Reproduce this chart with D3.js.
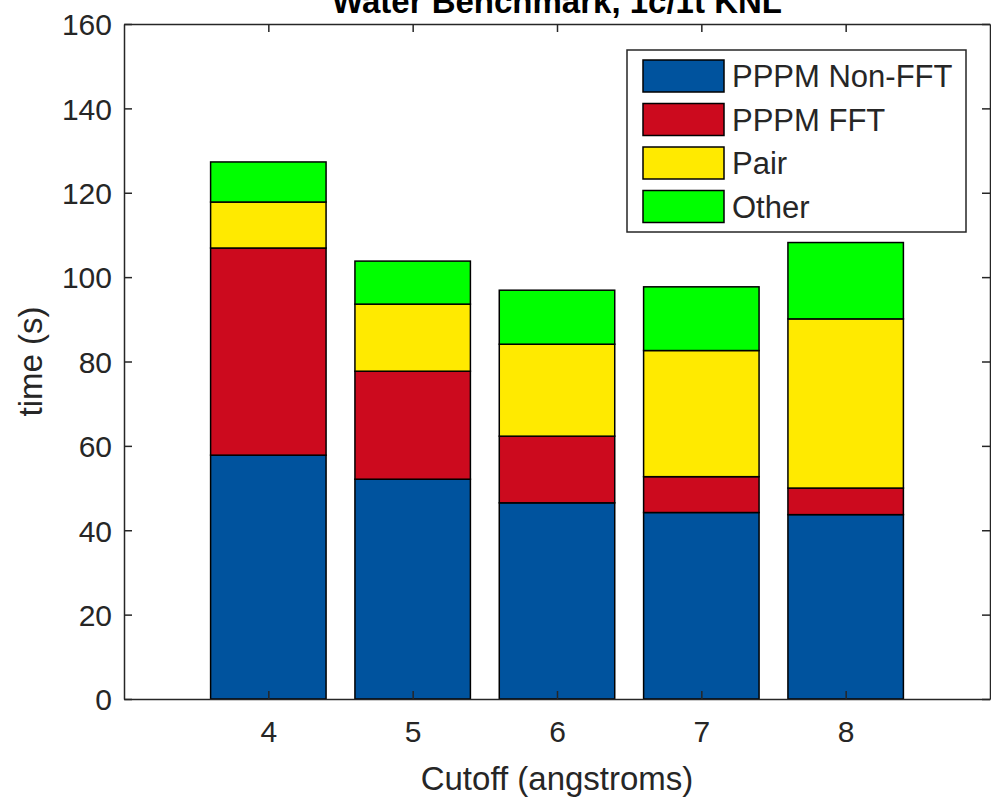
<!DOCTYPE html>
<html>
<head>
<meta charset="utf-8">
<script src="https://cdn.jsdelivr.net/npm/d3@7"></script>
<style>
  html, body { margin: 0; padding: 0; background: #fff; }
  svg { display: block; font-family: "Liberation Sans", Arial, Helvetica, sans-serif; }
</style>
</head>
<body>
<svg id="chart" width="991" height="802"></svg>
<script>
// Cutoff radii (angstroms) and the time spent in each part of the run
const cutoffs = [4, 5, 6, 7, 8];
const pppmNonFFT = [57.8, 52.1, 46.5, 44.2, 43.7];
const pppmFFT    = [49.1, 25.6, 15.8, 8.5, 6.3];
const pair       = [10.9, 15.9, 21.8, 29.9, 40.1];
const other      = [9.5, 10.2, 12.8, 15.1, 18.1];

const seriesNames = ["PPPM Non-FFT", "PPPM FFT", "Pair", "Other"];
const seriesColors = ["#00539E", "#CC0A1E", "#FFEA00", "#00FF00"];
const yTicks = [0, 20, 40, 60, 80, 100, 120, 140, 160];

const svg = d3.select("#chart");
const plotLeft = 124, plotRight = 990, plotTop = 24, plotBottom = 699;
const axisColor = "#262626";

const x = d3.scaleLinear().domain([3, 9]).range([plotLeft, plotRight]);
const y = d3.scaleLinear().domain([0, 160]).range([plotBottom, plotTop]);

// Stack the four components per cutoff
const rows = cutoffs.map((c, i) => ({
  cutoff: c,
  "PPPM Non-FFT": pppmNonFFT[i],
  "PPPM FFT": pppmFFT[i],
  "Pair": pair[i],
  "Other": other[i]
}));
const stacked = d3.stack().keys(seriesNames)(rows);
const barWidth = (x(1) - x(0)) * 0.8;

const layers = svg.append("g").selectAll("g")
  .data(stacked)
  .join("g")
  .attr("fill", (d, i) => seriesColors[i]);

layers.selectAll("rect")
  .data(d => d)
  .join("rect")
  .attr("x", d => x(d.data.cutoff) - barWidth / 2)
  .attr("width", barWidth)
  .attr("y", d => y(d[1]))
  .attr("height", d => y(d[0]) - y(d[1]))
  .attr("stroke", "#000")
  .attr("stroke-width", 1.5);

// Axes box with inward ticks on all four sides
const tickLen = 8;
const axisFont = "30px";

const gLeft = svg.append("g").attr("transform", `translate(${plotLeft},0)`)
  .call(d3.axisLeft(y).tickValues(yTicks).tickSizeInner(-tickLen).tickSizeOuter(0).tickPadding(12));
const gRight = svg.append("g").attr("transform", `translate(${plotRight},0)`)
  .call(d3.axisRight(y).tickValues(yTicks).tickSizeInner(-tickLen).tickSizeOuter(0).tickFormat(""));
const gBottom = svg.append("g").attr("transform", `translate(0,${plotBottom})`)
  .call(d3.axisBottom(x).tickValues(cutoffs).tickFormat(d3.format("d"))
    .tickSizeInner(-tickLen).tickSizeOuter(0).tickPadding(22));
const gTop = svg.append("g").attr("transform", `translate(0,${plotTop})`)
  .call(d3.axisTop(x).tickValues(cutoffs).tickSizeInner(-tickLen).tickSizeOuter(0).tickFormat(""));

[gLeft, gRight, gBottom, gTop].forEach(g => {
  g.selectAll("path.domain").attr("stroke", axisColor).attr("stroke-width", 1.5);
  g.selectAll(".tick line").attr("stroke", axisColor).attr("stroke-width", 1.5);
  g.selectAll(".tick text")
    .attr("fill", axisColor)
    .style("font-size", axisFont)
    .style("font-family", "'Liberation Sans', Arial, sans-serif");
});
gLeft.selectAll(".tick text").attr("dy", "0.36em");

// Axis titles
svg.append("text")
  .attr("x", (plotLeft + plotRight) / 2)
  .attr("y", 790)
  .attr("text-anchor", "middle")
  .attr("fill", axisColor)
  .style("font-size", "33px")
  .text("Cutoff (angstroms)");

svg.append("text")
  .attr("transform", `translate(42,${(plotTop + plotBottom) / 2}) rotate(-90)`)
  .attr("text-anchor", "middle")
  .attr("fill", axisColor)
  .style("font-size", "33px")
  .text("time (s)");

svg.append("text")
  .attr("x", (plotLeft + plotRight) / 2)
  .attr("y", 13)
  .attr("text-anchor", "middle")
  .attr("fill", "#000")
  .style("font-size", "33px")
  .style("font-weight", "bold")
  .text("Water Benchmark, 1c/1t KNL");

// Legend
const legend = svg.append("g");
legend.append("rect")
  .attr("x", 627).attr("y", 50)
  .attr("width", 339).attr("height", 182)
  .attr("fill", "#fff")
  .attr("stroke", axisColor)
  .attr("stroke-width", 1.5);

const entries = legend.selectAll("g.entry")
  .data(seriesNames)
  .join("g")
  .attr("class", "entry")
  .attr("transform", (d, i) => `translate(643,${60 + i * 43.5})`);

entries.append("rect")
  .attr("width", 81).attr("height", 32)
  .attr("fill", (d, i) => seriesColors[i])
  .attr("stroke", "#000")
  .attr("stroke-width", 1.5);

entries.append("text")
  .attr("x", 89)
  .attr("y", 16)
  .attr("dy", "0.36em")
  .attr("fill", axisColor)
  .style("font-size", "31px")
  .text(d => d);
</script>
</body>
</html>
